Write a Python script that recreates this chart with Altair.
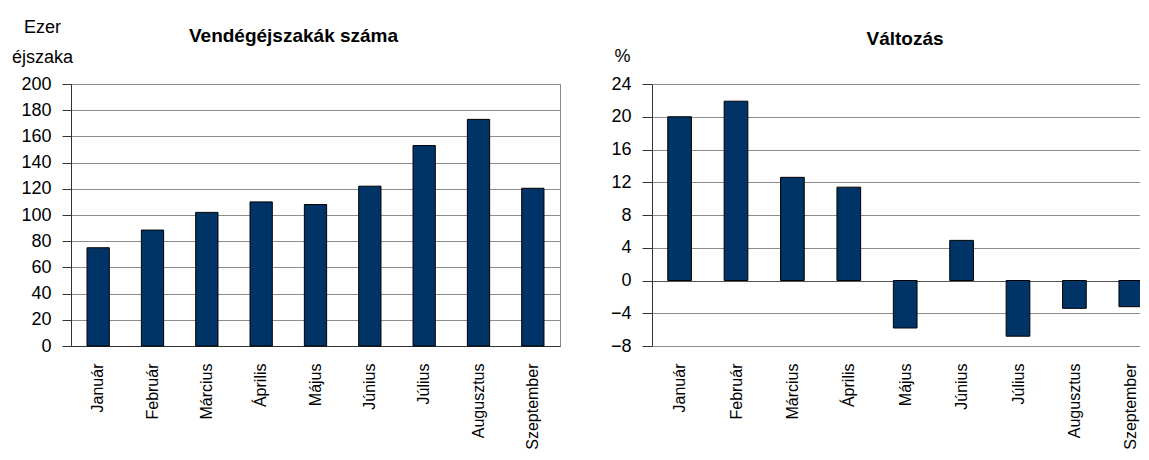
import json
import altair as alt
import pandas as pd

months = ["Január", "Február", "Március", "Április", "Május",
          "Június", "Július", "Augusztus", "Szeptember"]
nights = [75, 88.5, 102, 110, 108, 122, 153, 173, 120.4]
change = [20, 21.9, 12.6, 11.4, -5.8, 4.9, -6.8, -3.4, -3.2]
left_ticks = list(range(0, 201, 20))
right_ticks = list(range(-8, 25, 4))

FONT = "'Liberation Sans', Arial, sans-serif"
BAR = "#003366"
GRID = "#8c8c8c"
AXIS = "#333333"
LBL = 18

df1 = pd.DataFrame({"Hónap": months, "Vendégéjszaka": nights})
df2 = pd.DataFrame({"Hónap": months, "Változás": change, "idx": list(range(len(months)))})

x_axis = dict(title=None, labelAngle=-90, ticks=False, labelPadding=17,
              labelAlign="right", labelBaseline="middle", labelFontSize=16,
              labelColor="black", labelFont=FONT)

left = alt.Chart(df1).mark_bar(color=BAR, stroke="black", strokeWidth=1).encode(
    x=alt.X("Hónap:N", sort=months,
            scale=alt.Scale(paddingInner=0.59, paddingOuter=0.295),
            axis=alt.Axis(domainColor=AXIS, **x_axis)),
    y=alt.Y("Vendégéjszaka:Q", scale=alt.Scale(domain=[0, 200], nice=False),
            axis=alt.Axis(values=left_ticks, title=["Ezer", "éjszaka"], titleAngle=0,
                          titleAlign="center", titleBaseline="alphabetic",
                          titleX=-29, titleY=-52, titleLineHeight=30,
                          titleFont=FONT, titleFontSize=LBL, titleFontWeight="normal",
                          titleColor="black",
                          tickSize=9, labelPadding=11, labelFont=FONT, labelFontSize=LBL,
                          labelColor="black", domainColor=AXIS, tickColor=AXIS,
                          gridColor=GRID)),
).properties(
    width=489, height=262,
    title=alt.TitleParams("Vendégéjszakák száma", font=FONT, fontSize=19, fontWeight="bold",
                          color="black", anchor="middle", dx=-22, offset=-28),
    view=alt.ViewBackground(stroke=GRID),
)

# right panel: the reference crops its last category, so x is a linear index scale
RW = 488
STEP = 56.4
x0 = -27.6 / STEP
label_expr = json.dumps(months, ensure_ascii=False) + "[datum.value]"

right = alt.Chart(df2).transform_calculate(
    a="datum.idx - 0.21", b="datum.idx + 0.21"
).mark_bar(color=BAR, stroke="black", strokeWidth=1, clip=True).encode(
    x=alt.X("a:Q", scale=alt.Scale(domain=[x0, x0 + RW / STEP], nice=False, zero=False),
            axis=alt.Axis(values=list(range(len(months))), labelExpr=label_expr,
                          grid=False, domain=False, **x_axis)),
    x2="b:Q",
    y=alt.Y("Változás:Q", scale=alt.Scale(domain=[-8, 24], nice=False),
            axis=alt.Axis(values=right_ticks, title="%", titleAngle=0,
                          titleAlign="center", titleBaseline="alphabetic",
                          titleX=-30, titleY=-23,
                          titleFont=FONT, titleFontSize=LBL, titleFontWeight="normal",
                          titleColor="black",
                          tickSize=10, labelPadding=11, labelFont=FONT, labelFontSize=LBL,
                          labelColor="black", domainColor=AXIS, tickColor=AXIS,
                          gridColor=alt.condition("datum.value === 0",
                                                  alt.value("#555555"), alt.value(GRID)))),
    y2=alt.datum(0),
).properties(
    width=RW, height=262,
    title=alt.TitleParams("Változás", font=FONT, fontSize=19, fontWeight="bold",
                          color="black", anchor="middle", dx=9, offset=-2),
    view=alt.ViewBackground(stroke=None),
)

chart = alt.hconcat(left, right, spacing=49).properties(
    padding={"left": 2, "top": 9, "right": 0, "bottom": 0}
).configure(font=FONT)

chart.save("out.html", embed_options={"renderer": "svg", "actions": False})
